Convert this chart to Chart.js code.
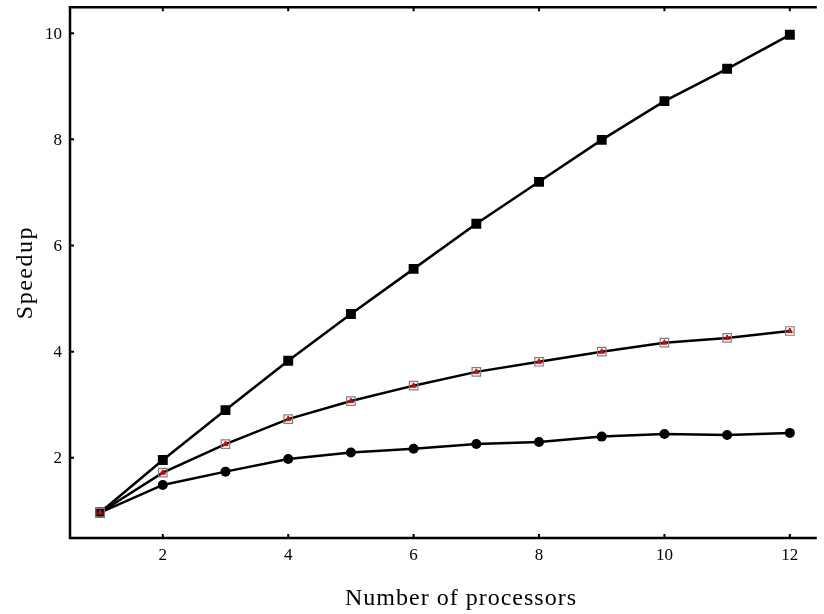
<!DOCTYPE html>
<html>
<head>
 <title>Speedup vs number of processors</title>
 <script src="https://cdn.jsdelivr.net/npm/chart.js"></script>
 <style>
  body { margin: 0; background: #fff; }
  #chart-container { width: 824px; height: 614px; }
 </style>
</head>
<body>
 <div id="chart-container">
  <canvas id="speedupChart" width="824" height="614"></canvas>
 </div>

 <script>
  // Measured speedups per processor count
  const processors = [1, 2, 3, 4, 5, 6, 7, 8, 9, 10, 11, 12];
  const speedupFilled = [0.97, 1.96, 2.90, 3.83, 4.71, 5.56, 6.41, 7.20, 7.99, 8.72, 9.33, 9.97];
  const speedupOpen = [0.97, 1.72, 2.26, 2.73, 3.07, 3.36, 3.62, 3.81, 4.00, 4.17, 4.26, 4.39];
  const speedupRed = [0.97, 1.72, 2.26, 2.73, 3.07, 3.36, 3.62, 3.81, 4.00, 4.17, 4.26, 4.39];
  const speedupCircle = [0.97, 1.49, 1.74, 1.98, 2.10, 2.17, 2.26, 2.30, 2.40, 2.45, 2.43, 2.47];

  const xTicks = [2, 4, 6, 8, 10, 12];
  const yTicks = [2, 4, 6, 8, 10];

  const toPoints = ys => processors.map((p, i) => ({ x: p, y: ys[i] }));

  const serif = '"Liberation Serif", "DejaVu Serif", serif';

  // Frame with inward ticks on top/left/bottom, plus tick labels and axis titles
  const frameAxes = {
   id: 'frameAxes',
   afterDatasetsDraw(chart) {
    const { ctx, chartArea: a, scales: { x, y } } = chart;
    ctx.save();
    ctx.strokeStyle = '#000';
    ctx.lineWidth = 2.5;
    ctx.lineJoin = 'miter';
    ctx.beginPath();
    ctx.moveTo(a.right, a.top);
    ctx.lineTo(a.left, a.top);
    ctx.lineTo(a.left, a.bottom);
    ctx.lineTo(a.right, a.bottom);
    ctx.stroke();

    ctx.lineWidth = 2;
    ctx.beginPath();
    xTicks.forEach(v => {
     const px = x.getPixelForValue(v);
     ctx.moveTo(px, a.bottom);
     ctx.lineTo(px, a.bottom - 4);
     ctx.moveTo(px, a.top);
     ctx.lineTo(px, a.top + 4);
    });
    yTicks.forEach(v => {
     const py = y.getPixelForValue(v);
     ctx.moveTo(a.left, py);
     ctx.lineTo(a.left + 4, py);
    });
    ctx.stroke();

    ctx.fillStyle = '#000';
    ctx.font = '17px ' + serif;
    ctx.textBaseline = 'alphabetic';
    ctx.textAlign = 'center';
    xTicks.forEach(v => {
     ctx.fillText(String(v), x.getPixelForValue(v), a.bottom + 22);
    });
    ctx.textAlign = 'right';
    yTicks.forEach(v => {
     ctx.fillText(String(v), a.left - 8, y.getPixelForValue(v) + 5.5);
    });

    ctx.font = '24px ' + serif;
    ctx.letterSpacing = '1px';
    ctx.textAlign = 'center';
    ctx.fillText('Number of processors', 461, 605);

    ctx.letterSpacing = '1.5px';
    ctx.translate(32, (a.top + a.bottom) / 2);
    ctx.rotate(-Math.PI / 2);
    ctx.fillText('Speedup', 0, 0);
    ctx.restore();
   }
  };

  const ctx = document.getElementById('speedupChart').getContext('2d');
  const chart = new Chart(ctx, {
   type: 'scatter',
   data: {
    datasets: [
     {
      label: 'Red markers',
      data: toPoints(speedupRed),
      showLine: false,
      pointStyle: 'triangle',
      pointRadius: 3,
      pointBackgroundColor: '#e00000',
      pointBorderColor: '#e00000',
      pointBorderWidth: 1,
      order: 0
     },
     {
      label: 'Open squares',
      data: toPoints(speedupOpen),
      showLine: true,
      borderColor: '#000',
      borderWidth: 2.5,
      pointStyle: 'rect',
      pointRadius: 6,
      pointBackgroundColor: 'rgba(255,255,255,0)',
      pointBorderColor: '#808080',
      pointBorderWidth: 1.2,
      order: 1
     },
     {
      label: 'Filled squares',
      data: toPoints(speedupFilled),
      showLine: true,
      borderColor: '#000',
      borderWidth: 2.5,
      pointStyle: 'rect',
      pointRadius: 7,
      pointBackgroundColor: '#000',
      pointBorderColor: '#000',
      pointBorderWidth: 0,
      order: 2
     },
     {
      label: 'Circles',
      data: toPoints(speedupCircle),
      showLine: true,
      borderColor: '#000',
      borderWidth: 2.5,
      pointStyle: 'circle',
      pointRadius: 5,
      pointBackgroundColor: '#000',
      pointBorderColor: '#000',
      pointBorderWidth: 0,
      order: 3
     }
    ]
   },
   options: {
    responsive: false,
    animation: false,
    devicePixelRatio: 1,
    layout: { padding: { left: 70, right: 0, top: 7, bottom: 76 } },
    plugins: {
     legend: { display: false },
     tooltip: { enabled: false }
    },
    scales: {
     x: { type: 'linear', display: false, min: 0.52, max: 12.43 },
     y: { type: 'linear', display: false, min: 0.49, max: 10.49 }
    }
   },
   plugins: [frameAxes]
  });
 </script>
</body>
</html>
